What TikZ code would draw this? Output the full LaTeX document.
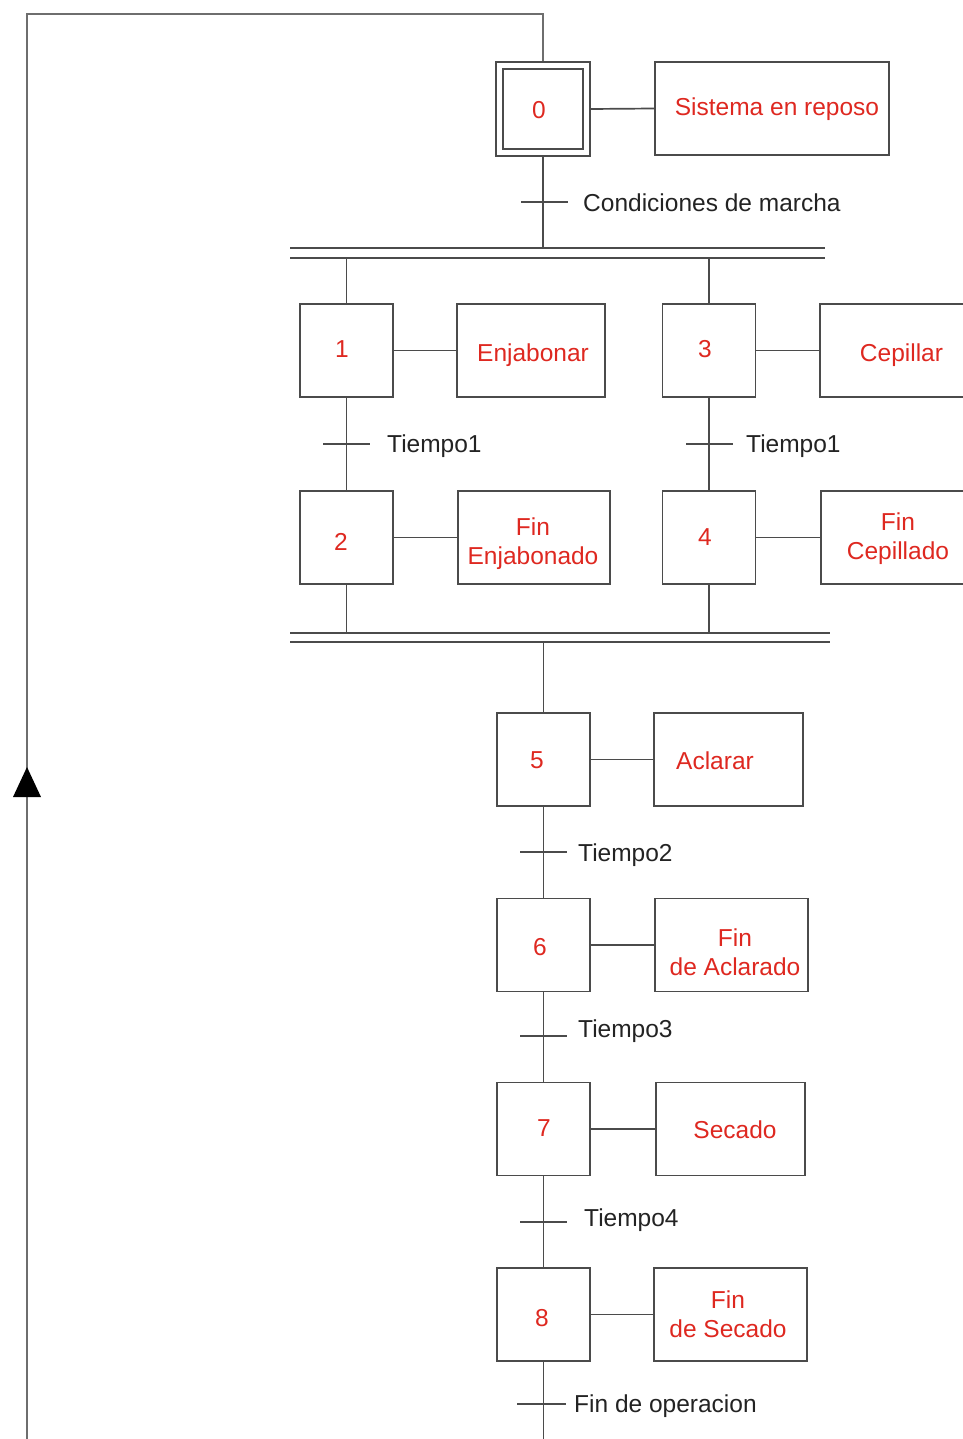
\documentclass[tikz,border=0pt]{standalone}
\usepackage{fontspec}
\setmainfont{Liberation Sans}
\definecolor{redtxt}{RGB}{222,40,32}
\definecolor{ln}{RGB}{75,75,75}
\definecolor{lnret}{RGB}{110,110,110}
\definecolor{txtc}{RGB}{35,35,35}
\begin{document}
\begin{tikzpicture}[x=1pt,y=-1pt,
  every node/.style={font=\fontsize{24.5}{29}\selectfont},
  link/.style={draw=ln,line width=1.7pt},
  stepbox/.style={draw=ln,line width=1.7pt,minimum width=93pt,minimum height=93pt,inner sep=0pt},
  actbox/.style={draw=ln,line width=1.7pt,minimum height=93pt,inner sep=0pt},
  rtxt/.style={text=redtxt,align=center,inner sep=0pt},
  lbl/.style={anchor=west,inner sep=0pt,text=txtc}]
\useasboundingbox (0,0) rectangle (962,1439);
% steps
\node[stepbox,minimum width=80pt,minimum height=80pt] (s0) at (543,109) {};
\node[draw=ln,line width=1.7pt,minimum width=94pt,minimum height=94pt,inner sep=0pt] (s0o) at (543,109) {};
\node[actbox,minimum width=234pt] (a0) at (772,108.5) {};
\node[stepbox] (s1) at (346.5,350.5) {};
\node[actbox,minimum width=148pt] (a1) at (531,350.5) {};
\node[stepbox] (s3) at (709,350.5) {};
\node[actbox,minimum width=162pt] (a3) at (901,350.5) {};
\node[stepbox] (s2) at (346.5,537.5) {};
\node[actbox,minimum width=152pt] (a2) at (534,537.5) {};
\node[stepbox] (s4) at (709,537.5) {};
\node[actbox,minimum width=158pt] (a4) at (900,537.5) {};
\node[stepbox] (s5) at (543.5,759.5) {};
\node[actbox,minimum width=149pt] (a5) at (728.5,759.5) {};
\node[stepbox] (s6) at (543.5,945) {};
\node[actbox,minimum width=153pt] (a6) at (731.5,945) {};
\node[stepbox] (s7) at (543.5,1129) {};
\node[actbox,minimum width=149pt] (a7) at (730.5,1129) {};
\node[stepbox] (s8) at (543.5,1314.5) {};
\node[actbox,minimum width=153pt] (a8) at (730.5,1314.5) {};
% step numbers
\node[rtxt] (n0) at (539,110) {0};
\node[rtxt] (n1) at (342,349) {1};
\node[rtxt] (n3) at (705,349) {3};
\node[rtxt] (n2) at (341,542) {2};
\node[rtxt] (n4) at (705,537) {4};
\node[rtxt] (n5) at (537,760) {5};
\node[rtxt] (n6) at (540,947) {6};
\node[rtxt] (n7) at (544,1128) {7};
\node[rtxt] (n8) at (542,1318) {8};
% action texts
\node[rtxt] (x0) at (777,109) {Sistema en reposo};
\node[rtxt] (x1) at (533,355) {Enjabonar};
\node[rtxt] (x3) at (901.5,355) {Cepillar};
\node[rtxt] (x2) at (533,543.5) {Fin\\Enjabonado};
\node[rtxt] (x4) at (898,538.5) {Fin\\Cepillado};
\node[rtxt] (x5) at (715,761) {Aclarar};
\node[rtxt] (x6) at (735,952.5) {Fin\\de Aclarado};
\node[rtxt] (x7) at (735,1130) {Secado};
\node[rtxt] (x8) at (728,1314.5) {Fin\\de Secado};
% step-action links
\draw[link] (s0o.east) -- (a0.west);
\draw[link] (s1.east) -- (a1.west);
\draw[link] (s3.east) -- (a3.west);
\draw[link] (s2.east) -- (a2.west);
\draw[link] (s4.east) -- (a4.west);
\draw[link] (s5.east) -- (a5.west);
\draw[link] (s6.east) -- (a6.west);
\draw[link] (s7.east) -- (a7.west);
\draw[link] (s8.east) -- (a8.west);
% parallel bars
\coordinate (b1L) at (290,248); \coordinate (b1R) at (825,248);
\coordinate (b2L) at (290,258); \coordinate (b2R) at (825,258);
\coordinate (b3L) at (290,633); \coordinate (b3R) at (830,633);
\coordinate (b4L) at (290,642); \coordinate (b4R) at (830,642);
\draw[link] (b1L) -- (b1R);
\draw[link] (b2L) -- (b2R);
\draw[link] (b3L) -- (b3R);
\draw[link] (b4L) -- (b4R);
% vertical connectors
\draw[link] (s0o.south) -- (s0o.south |- b1L);
\draw[link] (s1.north) -- (s1.north |- b2L);
\draw[link] (s3.north) -- (s3.north |- b2L);
\draw[link] (s1.south) -- (s2.north);
\draw[link] (s3.south) -- (s4.north);
\draw[link] (s2.south) -- (s2.south |- b3L);
\draw[link] (s4.south) -- (s4.south |- b3L);
\draw[link] (s5.north) -- (s5.north |- b4L);
\draw[link] (s5.south) -- (s6.north);
\draw[link] (s6.south) -- (s7.north);
\draw[link] (s7.south) -- (s8.north);
\coordinate (endB) at (543.5,1439);
\draw[link] (s8.south) -- (endB);
% return line
\coordinate (rt) at (543,14);
\coordinate (lt) at (27,14);
\coordinate (lb) at (27,1439);
\draw[link,draw=lnret] (s0o.north) -- (rt) -- (lt) -- (lb);
\fill[black] (27,767) -- (13,797) -- (41,797) -- cycle;
% transitions
\draw[link] (521,202) -- (568,202);
\node[lbl] (t0) at (583,203) {Condiciones de marcha};
\draw[link] (323,444) -- (370,444);
\node[lbl] (t1) at (387,446) {Tiempo1};
\draw[link] (686,444) -- (733,444);
\node[lbl] (t3) at (746,446) {Tiempo1};
\draw[link] (520,852) -- (567,852);
\node[lbl] (t5) at (578,855) {Tiempo2};
\draw[link] (520,1036) -- (567,1036);
\node[lbl] (t6) at (578,1031) {Tiempo3};
\draw[link] (520,1222) -- (567,1222);
\node[lbl] (t7) at (584,1220) {Tiempo4};
\draw[link] (517,1404) -- (566,1404);
\node[lbl] (t8) at (574,1406) {Fin de operacion};
\end{tikzpicture}
\end{document}
